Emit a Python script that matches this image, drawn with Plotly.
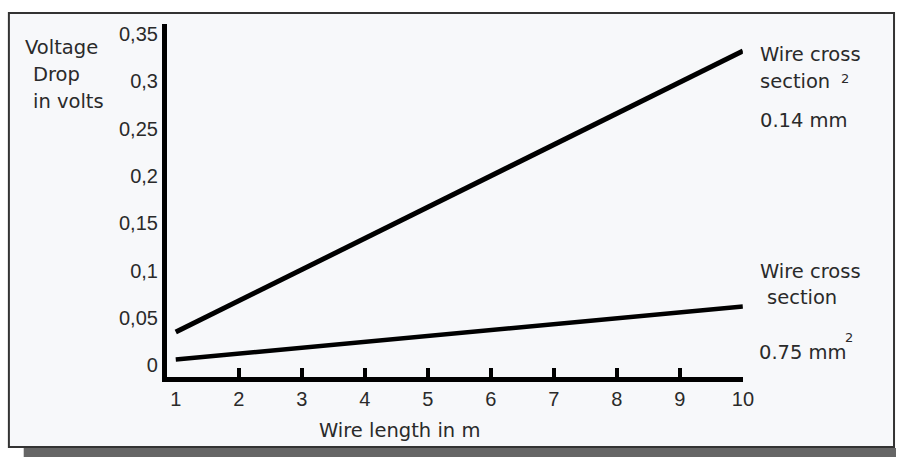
import plotly.graph_objects as go

# ---- data ----
wire_length = [1, 10]
drop_014 = [0.035, 0.332]   # 0.14 mm^2 cross section
drop_075 = [0.006, 0.062]   # 0.75 mm^2 cross section
x_ticks = [1, 2, 3, 4, 5, 6, 7, 8, 9, 10]
x_tick_marks = [2, 3, 4, 5, 6, 7, 8, 9, 10]
y_ticks = [0, 0.05, 0.1, 0.15, 0.2, 0.25, 0.3, 0.35]
y_tick_text = ["0", "0,05", "0,1", "0,15", "0,2", "0,25", "0,3", "0,35"]

W, H = 907, 457
def px(x):
    return x / W
def py(y):
    return 1 - y / H

TXT = dict(family="DejaVu Sans", size=19.5, color="#2a2a2a")
TICK = dict(family="Liberation Sans", size=20, color="#2a2a2a")

fig = go.Figure()
fig.add_trace(go.Scatter(x=wire_length, y=drop_014, mode="lines",
                         line=dict(color="black", width=5), xaxis="x", yaxis="y",
                         showlegend=False, hoverinfo="skip"))
fig.add_trace(go.Scatter(x=wire_length, y=drop_075, mode="lines",
                         line=dict(color="black", width=4.5), xaxis="x2", yaxis="y",
                         showlegend=False, hoverinfo="skip"))

xr = [0.86, 10]
yr = [-0.0126, 0.3605]
xdom = [px(169), px(752)]
ydom = [py(377), py(23)]

fig.update_layout(
    width=W, height=H, autosize=False,
    margin=dict(l=0, r=0, t=0, b=0),
    paper_bgcolor="white", plot_bgcolor="rgba(0,0,0,0)",
    xaxis=dict(domain=xdom, range=xr, showgrid=False, zeroline=False,
               showline=True, linewidth=4.5, linecolor="black",
               tickmode="array", tickvals=x_ticks, ticktext=[str(v) for v in x_ticks],
               ticks="", tickfont=TICK, anchor="y", fixedrange=True),
    xaxis2=dict(domain=xdom, range=xr, overlaying="x", anchor="y", side="bottom",
                showgrid=False, zeroline=False, showline=False,
                tickmode="array", tickvals=x_tick_marks, showticklabels=False,
                ticks="inside", ticklen=9, tickwidth=3.5, tickcolor="black"),
    yaxis=dict(domain=ydom, range=yr, showgrid=False, zeroline=False,
               showline=True, linewidth=5, linecolor="black",
               tickmode="array", tickvals=y_ticks, ticktext=y_tick_text,
               ticks="", tickfont=TICK, anchor="x"),
    shapes=[
        dict(type="rect", xref="paper", yref="paper", x0=px(24), x1=px(907),
             y0=py(457), y1=py(448), fillcolor="#666666", line=dict(width=0), layer="below"),
        dict(type="rect", xref="paper", yref="paper", x0=px(9), x1=px(905),
             y0=py(447), y1=py(12), fillcolor="#f7f8fa",
             line=dict(color="#333333", width=2), layer="below"),
    ],
)

ann = [
    ("Voltage", 23, 47),
    ("Drop", 31, 74),
    ("in volts", 31, 101),
    ("Wire cross", 767, 54),
    ("section", 767, 81),
    ("0.14 mm", 767, 120),
    ("Wire cross", 767, 271),
    ("section", 774, 297),
    ("0.75 mm", 766, 352),
]
for t, x, y in ann:
    fig.add_annotation(text=t, x=px(x), y=py(y), xref="paper", yref="paper",
                       xanchor="left", yanchor="middle", showarrow=False, font=TXT)
for x, y in [(855, 78), (859, 337)]:
    fig.add_annotation(text="2", x=px(x), y=py(y), xref="paper", yref="paper",
                       xanchor="center", yanchor="middle", showarrow=False,
                       font=dict(family="DejaVu Sans", size=13, color="#2a2a2a"))
fig.add_annotation(text="Wire length in m", x=px(404), y=py(430), xref="paper", yref="paper",
                   xanchor="center", yanchor="middle", showarrow=False, font=TXT)

fig.write_html("out.html", config={"displayModeBar": False},
               post_script="document.body.style.margin='0';document.body.style.overflow='hidden';")
